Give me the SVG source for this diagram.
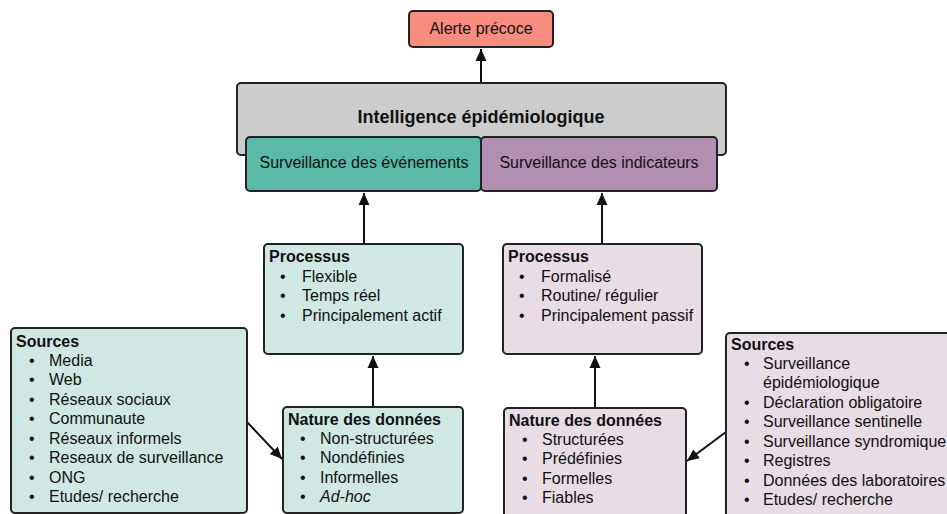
<svg xmlns="http://www.w3.org/2000/svg" width="947" height="514" viewBox="0 0 947 514">
<defs>
<style>
.b{stroke:#222;stroke-width:2}
text{font-family:"Liberation Sans",Arial,sans-serif;font-size:16px;fill:#111}
.t{font-weight:bold}
.c{text-anchor:middle}
.e{stroke:#111;stroke-width:2;fill:none}
</style>
<marker id="a" viewBox="0 0 12 12" refX="12" refY="6" markerWidth="12" markerHeight="13" orient="auto" markerUnits="userSpaceOnUse">
<path d="M0,0.5 L12,6 L0,11.5 z" fill="#111"/>
</marker>
</defs>
<g id="connectors">
<line class="e" x1="481" y1="83" x2="481" y2="49" marker-end="url(#a)"/>
<line class="e" x1="364" y1="244" x2="364" y2="193" marker-end="url(#a)"/>
<line class="e" x1="602" y1="244" x2="602" y2="193" marker-end="url(#a)"/>
<line class="e" x1="373" y1="407" x2="373" y2="356" marker-end="url(#a)"/>
<line class="e" x1="595" y1="408" x2="595" y2="356" marker-end="url(#a)"/>
<line class="e" x1="247" y1="422" x2="282" y2="459" marker-end="url(#a)"/>
<line class="e" x1="726" y1="432" x2="687" y2="461" marker-end="url(#a)"/>
</g>
<g id="alerte">
<rect class="b" x="409" y="11" width="144" height="36" rx="4" fill="#f88c7e"/>
<text class="c" x="481" y="34">Alerte précoce</text>
</g>
<g id="intelligence">
<rect class="b" x="237" y="83" width="489" height="72" rx="4" fill="#cccccc"/>
<text class="t c" x="481" y="123" style="font-size:18px">Intelligence épidémiologique</text>
</g>
<g id="evenements">
<rect class="b" x="246" y="137" width="235" height="54" rx="4" fill="#5bb9a7"/>
<text class="c" x="364" y="168">Surveillance des événements</text>
</g>
<g id="indicateurs">
<rect class="b" x="481" y="137" width="236" height="54" rx="4" fill="#b28eb2"/>
<text class="c" x="599" y="168">Surveillance des indicateurs</text>
</g>
<g id="processus-evt">
<rect class="b" x="264" y="244" width="199" height="110" rx="4" fill="#cfe8e3"/>
<text class="t" x="269" y="262">Processus</text>
<text x="280" y="282">•</text><text x="302" y="282">Flexible</text>
<text x="280" y="301">•</text><text x="302" y="301">Temps réel</text>
<text x="280" y="321">•</text><text x="302" y="321">Principalement actif</text>
</g>
<g id="processus-ind">
<rect class="b" x="503" y="244" width="199" height="110" rx="4" fill="#e8dce5"/>
<text class="t" x="508" y="262">Processus</text>
<text x="519" y="282">•</text><text x="541" y="282">Formalisé</text>
<text x="519" y="301">•</text><text x="541" y="301">Routine/ régulier</text>
<text x="519" y="321">•</text><text x="541" y="321">Principalement passif</text>
</g>
<g id="sources-evt">
<rect class="b" x="11" y="328" width="236" height="185" rx="4" fill="#cfe8e3"/>
<text class="t" x="16" y="347">Sources</text>
<text x="29" y="366">•</text><text x="49" y="366">Media</text>
<text x="29" y="385">•</text><text x="49" y="385">Web</text>
<text x="29" y="405">•</text><text x="49" y="405">Réseaux sociaux</text>
<text x="29" y="424">•</text><text x="49" y="424">Communaute</text>
<text x="29" y="444">•</text><text x="49" y="444">Réseaux informels</text>
<text x="29" y="463">•</text><text x="49" y="463">Reseaux de surveillance</text>
<text x="29" y="483">•</text><text x="49" y="483">ONG</text>
<text x="29" y="502">•</text><text x="49" y="502">Etudes/ recherche</text>
</g>
<g id="nature-evt">
<rect class="b" x="283" y="407" width="180" height="106" rx="4" fill="#cfe8e3"/>
<text class="t" x="288" y="425">Nature des données</text>
<text x="300" y="444">•</text><text x="320" y="444">Non-structurées</text>
<text x="300" y="463">•</text><text x="320" y="463">Nondéfinies</text>
<text x="300" y="483">•</text><text x="320" y="483">Informelles</text>
<text x="300" y="502">•</text><text x="320" y="502" font-style="italic">Ad-hoc</text>
</g>
<g id="nature-ind">
<rect class="b" x="504" y="408" width="182" height="112" rx="4" fill="#e8dce5"/>
<text class="t" x="509" y="426">Nature des données</text>
<text x="522" y="445">•</text><text x="542" y="445">Structurées</text>
<text x="522" y="464">•</text><text x="542" y="464">Prédéfinies</text>
<text x="522" y="484">•</text><text x="542" y="484">Formelles</text>
<text x="522" y="503">•</text><text x="542" y="503">Fiables</text>
</g>
<g id="sources-ind">
<rect class="b" x="726" y="333" width="240" height="190" rx="4" fill="#e8dce5"/>
<text class="t" x="731" y="350">Sources</text>
<text x="744" y="369">•</text><text x="763" y="369">Surveillance</text>
<text x="763" y="388">épidémiologique</text>
<text x="744" y="408">•</text><text x="763" y="408">Déclaration obligatoire</text>
<text x="744" y="427">•</text><text x="763" y="427">Surveillance sentinelle</text>
<text x="744" y="447">•</text><text x="763" y="447">Surveillance syndromique</text>
<text x="744" y="466">•</text><text x="763" y="466">Registres</text>
<text x="744" y="486">•</text><text x="763" y="486">Données des laboratoires</text>
<text x="744" y="505">•</text><text x="763" y="505">Etudes/ recherche</text>
</g>
</svg>
